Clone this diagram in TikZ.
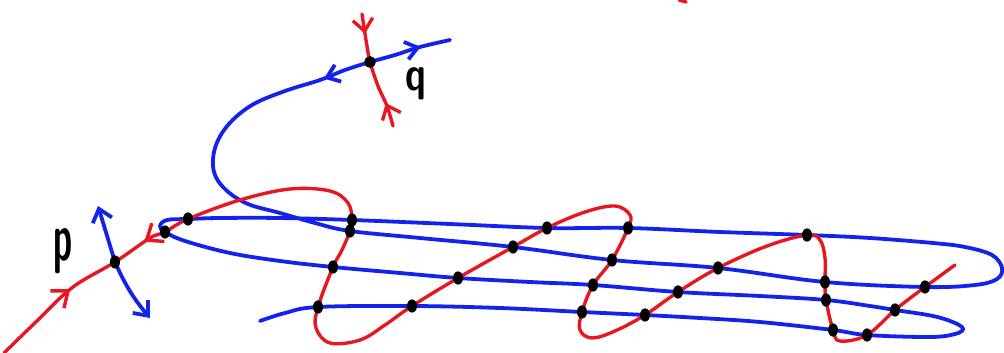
\documentclass[tikz,border=0pt]{standalone}
\usepackage{graphicx}
\definecolor{skblue}{RGB}{20,35,235}
\definecolor{skred}{RGB}{232,22,32}
\usetikzlibrary{arrows.meta,shapes.geometric,decorations.markings}

\begin{document}
\begin{tikzpicture}[
  x=0.025cm, y=-0.025cm,
  bluecurve/.style={draw=skblue,line width=2.7pt,line cap=round,line join=round},
  redcurve/.style={draw=skred,line width=2.4pt,line cap=round,line join=round},
  isect/.style={ellipse,fill=black,inner sep=0pt,minimum width=0.25cm,minimum height=0.33cm},
  lbl/.style={text=black,inner sep=0pt},
  barb/.tip={Straight Barb[length=3mm,width=5mm]},
]
  \useasboundingbox (0,0) rectangle (1004,353);
  \fill[white] (0,0) rectangle (1004,353);

  % fixed points
  \coordinate (P) at (115,262);
  \coordinate (Q) at (370,62);

  % intersection points of the two curves
  \foreach \i/\xy in {1/{165,232},2/{188,219},3/{352,220},4/{350,231},
      5/{333,267},6/{318,307},7/{412,306},8/{458,278},9/{513,247},
      10/{547,228},11/{628,228},12/{612,260},13/{593,285},14/{582,312},
      15/{645,315},16/{678,292},17/{718,268},18/{807,235},19/{825,282},
      20/{826,300},21/{833,330},22/{867,335},23/{895,310},24/{925,287}}
    \coordinate (c\i) at (\xy);

  % unstable branch leaving q
  \draw[bluecurve,postaction={decorate},decoration={markings,
      mark=at position 0.75cm with {\arrowreversed{Straight Barb[length=3mm,width=4.5mm]}},
      mark=at position 3.3cm with {\arrow{Straight Barb[length=3mm,width=4.5mm]}}}]
    plot[smooth,tension=0.6] coordinates {(450,40) (420,47) (395,55) (Q) (345,70)
      (320,80) (285,91) (252,105) (228,125) (215,148) (214,172) (226,190)
      (248,204) (280,213) (315,223) (c4) (420,238) (c9) (c12) (c17) (c19)
      (c24) (975,285) (997,279) (1002,268) (992,255) (965,247) (933,243)
      (870,238) (c18) (720,232) (c11) (c10) (450,224) (c3) (280,218) (220,218)
      (c2) (167,220) (160,226) (c1) (185,241) (230,253) (280,261) (c5)
      (400,273) (c8) (530,282) (c13) (c16) (760,296) (c20) (870,306) (c23)
      (933,316) (955,323) (963,329) (955,334) (930,337) (c22) (c21) (760,322)
      (700,318) (c15) (c14) (500,308) (c7) (c6) (285,313) (260,321)};

  % stable branch reaching p
  \draw[redcurve,postaction={decorate},decoration={markings,
      mark=at position 2.3cm with {\arrow{Straight Barb[length=3.5mm,width=5.5mm]}},
      mark=at position 4.5cm with {\arrowreversed{Straight Barb[length=3.5mm,width=5.5mm]}}}]
    plot[smooth,tension=0.6] coordinates {(4,353) (40,318) (73,287) (P)
      (150,238) (c1) (c2) (240,200) (290,189) (330,191) (348,203) (c3) (c4)
      (342,250) (c5) (c6) (316,328) (330,343) (360,340) (385,325) (c7) (c8)
      (c9) (c10) (585,212) (615,206) (630,215) (c11) (c12) (c13) (c14)
      (580,330) (592,338) (615,331) (c15) (c16) (c17) (767,246) (c18)
      (820,240) (825,258) (c19) (c20) (c21) (840,341) (c22) (c23) (c24)
      (955,265)};

  % local branches at p and q
  \coordinate (pu1) at (98,206);
  \coordinate (pu2) at (150,318);
  \draw[bluecurve,barb-barb] (pu1) -- (P) to[bend right=8] (pu2);
  \draw[redcurve,postaction={decorate},decoration={markings,
      mark=at position 0.5cm with {\arrow{Straight Barb[length=3mm,width=5mm]}},
      mark=at position -0.6cm with {\arrowreversed{Straight Barb[length=3mm,width=5mm]}}}]
    plot[smooth] coordinates {(362,14) (366,40) (Q) (378,86) (387,106) (393,126)};

  % stray stroke at the top edge
  \coordinate (s1) at (679,0);
  \coordinate (s2) at (686,2);
  \draw[redcurve] (s1) -- (s2);

  % dots
  \node[isect] (p) at (P) {};
  \node[isect,minimum width=0.28cm,minimum height=0.3cm] (q) at (Q) {};
  \foreach \i in {1,...,24}
    \node[isect] (dot\i) at (c\i) {};

  % labels
  \node[lbl,font=\fontsize{44}{44}\selectfont\sffamily\bfseries] (plbl) at (63,251)
    {\scalebox{0.55}[1.1]{p}};
  \node[lbl,font=\fontsize{33}{33}\selectfont\sffamily\bfseries] (qlbl) at (416,84)
    {\scalebox{0.8}[1.05]{q}};
\end{tikzpicture}
\end{document}
